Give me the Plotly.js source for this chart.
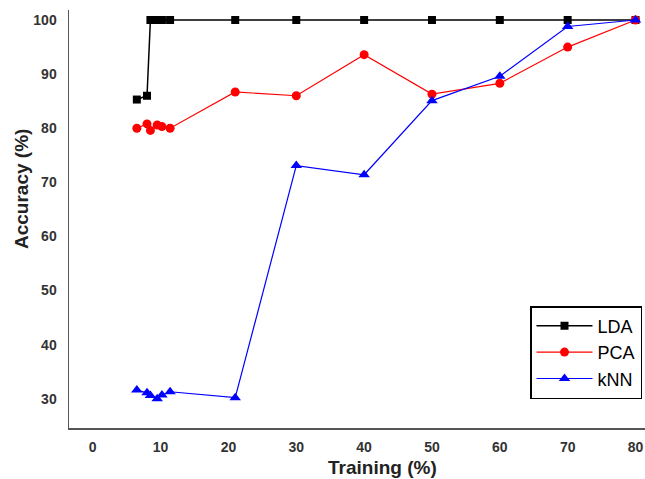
<!DOCTYPE html>
<html><head><meta charset="utf-8">
<script src="https://cdn.plot.ly/plotly-3.0.1.min.js"></script>
<style>html,body{margin:0;padding:0;background:#fff}#chart{width:645px;height:479px}</style>
</head><body><div id="chart"></div>
<script>
const xSmall = [6.5, 8, 8.5, 9.5, 10.2, 11.4];
const xLarge = [21, 30, 40, 50, 60, 70, 80];
const trainingX = xSmall.concat(xLarge);
const ldaY = [85.3, 86.0, 100, 100, 100, 100, 100, 100, 100, 100, 100, 100, 100];
const pcaY = [80.0, 80.8, 79.6, 80.6, 80.3, 80.0, 86.7, 86.0, 93.6, 86.3, 88.3, 95.0, 100];
const knnY = [31.6, 31.1, 30.6, 30.0, 30.7, 31.3, 30.2, 73.1, 71.4, 85.1, 89.6, 98.8, 100];
const xTicks = [0, 10, 20, 30, 40, 50, 60, 70, 80];
const yTicks = [30, 40, 50, 60, 70, 80, 90, 100];
const seriesNames = ['LDA', 'PCA', 'kNN'];

const traces = [
  {x: trainingX, y: ldaY, name: seriesNames[0], mode: 'lines+markers',
   line: {color: '#000000', width: 1.5}, marker: {symbol: 'square', size: 8, color: '#000000'}},
  {x: trainingX, y: pcaY, name: seriesNames[1], mode: 'lines+markers',
   line: {color: '#ff0000', width: 1.2}, marker: {symbol: 'circle', size: 9, color: '#ff0000'}},
  {x: trainingX, y: knnY, name: seriesNames[2], mode: 'lines+markers',
   line: {color: '#0000ff', width: 1.2}, marker: {symbol: 'triangle-up', size: 10, color: '#0000ff'}}
];

const tickFont = {family: 'Arial, Liberation Sans, sans-serif', size: 14, color: '#333333', weight: 'bold'};
const layout = {
  width: 645, height: 479,
  margin: {l: 69, r: 0, t: 10, b: 51, pad: 0},
  paper_bgcolor: '#ffffff', plot_bgcolor: '#ffffff',
  showlegend: true,
  legend: {x: (530-69)/576, xref: 'paper', y: 1 - (306-10)/418, yanchor: 'top', xanchor: 'left',
           bgcolor: '#ffffff', bordercolor: '#000000', borderwidth: 1.5,
           font: {family: 'Arial, Liberation Sans, sans-serif', size: 18, color: '#000000'},
           itemwidth: 56, tracegroupgap: 0},
  xaxis: {range: [-3.5, 81.4], tickvals: xTicks, ticktext: xTicks.map(String), ticks: '',
          showgrid: false, zeroline: false, showline: true, linecolor: '#555555', linewidth: 1.5,
          tickfont: tickFont, ticklabelstandoff: 6, fixedrange: true},
  yaxis: {range: [24.6, 101.85], tickvals: yTicks, ticktext: yTicks.map(String), ticks: '',
          showgrid: false, zeroline: false, showline: true, linecolor: '#555555', linewidth: 1.5,
          tickfont: tickFont, ticklabelstandoff: 8, fixedrange: true},
  annotations: [
    {text: 'Training (%)', xref: 'paper', yref: 'paper', x: (382-69)/576, y: -(467-428)/418,
     xanchor: 'center', yanchor: 'middle', showarrow: false,
     font: {family: 'Arial, Liberation Sans, sans-serif', size: 19, color: '#222222', weight: 'bold'}},
    {text: 'Accuracy (%)', xref: 'paper', yref: 'paper', x: -(69-22)/576, y: 1 - (189-10)/418,
     xanchor: 'center', yanchor: 'middle', showarrow: false, textangle: -90,
     font: {family: 'Arial, Liberation Sans, sans-serif', size: 19, color: '#222222', weight: 'bold'}}
  ]
};
Plotly.newPlot('chart', traces, layout, {displayModeBar: false, staticPlot: true});
</script></body></html>
